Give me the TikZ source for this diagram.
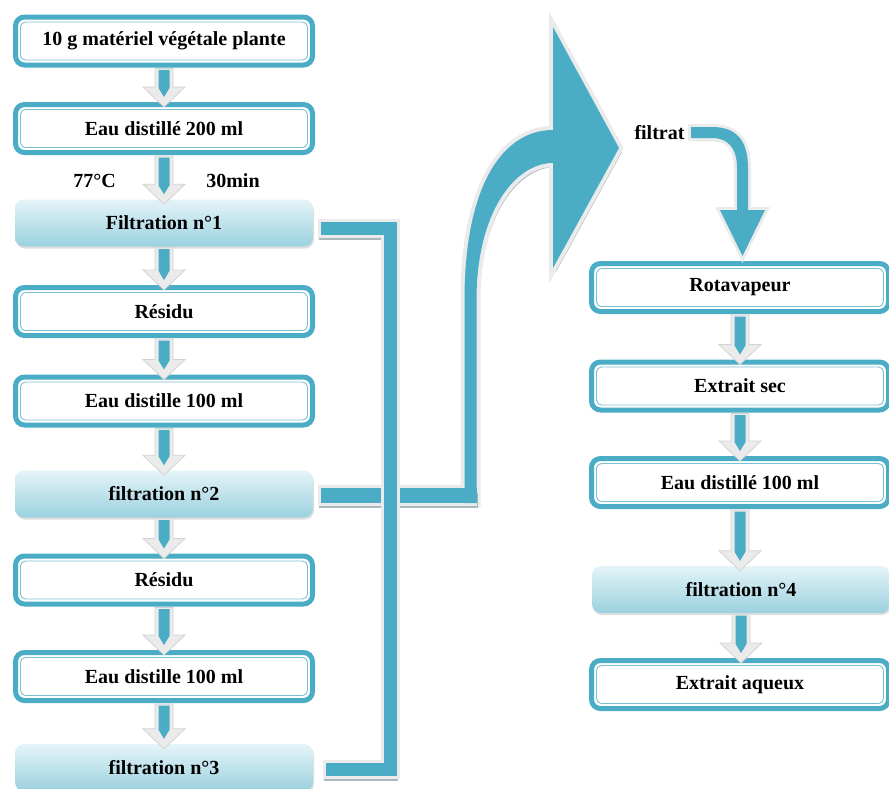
\documentclass[tikz,border=0pt]{standalone}
\usepackage{fontspec}
\setmainfont{Liberation Serif}
\usetikzlibrary{shadows,calc}
\definecolor{acc}{HTML}{4BACC6}
\definecolor{gtop}{HTML}{E4F4F8}
\definecolor{gbot}{HTML}{9BD1DF}
\definecolor{glow}{HTML}{EBEBEB}
\definecolor{glowedge}{HTML}{D2D2D2}
\definecolor{shad}{HTML}{A9B8BD}
\newcommand\flowarr[2]{%
  \filldraw[arrglow] let \p1=(#1.south), \p2=(#2.north) in
    (\x1-9pt,\y1-1pt) -- (\x1-9pt,\y2+15pt) -- (\x1-21pt,\y2+15pt) -- (\x1,\y2-5pt)
    -- (\x1+21pt,\y2+15pt) -- (\x1+9pt,\y2+15pt) -- (\x1+9pt,\y1-1pt) -- cycle;
  \fill[acc] let \p1=(#1.south), \p2=(#2.north) in
    (\x1-5.5pt,\y1-2.5pt) -- (\x1-5.5pt,\y2+14pt) -- (\x1,\y2+5pt)
    -- (\x1+5.5pt,\y2+14pt) -- (\x1+5.5pt,\y1-2.5pt) -- cycle;}
\begin{document}
\begin{tikzpicture}[x=1pt,y=-1pt,
  txt/.style={font=\fontsize{20}{24}\selectfont\bfseries, text=black},
  framebox/.style={txt, rectangle, rounded corners=9pt, draw=acc, line width=5pt,
    fill=white, minimum width=297pt, minimum height=48pt, inner sep=0pt,
    path picture={\draw[acc!75, line width=0.9pt, rounded corners=5pt]
      ([shift={(5pt,-5pt)}]path picture bounding box.north west) rectangle
      ([shift={(-5pt,5pt)}]path picture bounding box.south east);}},
  gradbox/.style={txt, rectangle, rounded corners=9pt, top color=gtop, bottom color=gbot,
    minimum width=298pt, minimum height=47pt, inner sep=0pt,
    drop shadow={opacity=0.25, shadow xshift=1pt, shadow yshift=-2pt}},
  label/.style={txt},
  arrglow/.style={fill=glow, draw=glowedge, line width=0.8pt},
  barshadow/.style={draw=shad, line width=#1, line join=miter},
  barglow/.style={draw=glow, line width=#1, line join=miter},
  barcore/.style={draw=acc, line width=#1, line join=miter},
  bigglow/.style={draw=glow, line width=8pt, line join=miter},
]
\useasboundingbox (0,0) rectangle (889,788);

% ---------------- nodes ----------------
\node[framebox] (b1) at (164,41) {10 g matériel végétale plante};
\node[framebox] (b2) at (164,128.5) {Eau distillé 200 ml};
\node[gradbox] (f1) at (164,223) {Filtration n°1};
\node[framebox] (r1) at (164,311.5) {Résidu};
\node[framebox] (e1) at (164,401) {Eau distille 100 ml};
\node[gradbox] (f2) at (164,494) {filtration n°2};
\node[framebox] (r2) at (164,580) {Résidu};
\node[framebox] (e2) at (164,676.5) {Eau distille 100 ml};
\node[gradbox] (f3) at (164,767.5) {filtration n°3};

\node[label] (t1) at (94.5,181) {77°C};
\node[label] (t2) at (233,181) {30min};

\node[framebox] (rota) at (740,287.5) {Rotavapeur};
\node[framebox] (sec) at (740,386) {Extrait sec};
\node[framebox] (eau) at (740,482.5) {Eau distillé 100 ml};
\node[gradbox] (f4) at (741,589.5) {filtration n°4};
\node[framebox] (aq) at (740,684.5) {Extrait aqueux};

\node[label] (filtrat) at (659.5,133) {filtrat};

% ---------------- coordinates ----------------
\coordinate (jt) at (390.5,228.5);
\coordinate (jb) at (390.5,769.5);
\coordinate (j2) at (476.5,495);

% ---------------- collecting bars ----------------
\draw[barshadow=13pt, transform canvas={shift={(1pt,-5pt)}}] ([xshift=5pt,yshift=-5.5pt]f1.east) -- (jt) -- (jb) -- ([xshift=10pt,yshift=-2pt]f3.east);
\draw[barglow=19pt] ([xshift=5pt,yshift=-5.5pt]f1.east) -- (jt) -- (jb) -- ([xshift=10pt,yshift=-2pt]f3.east);
\draw[barcore=13pt] ([xshift=8pt,yshift=-5.5pt]f1.east) -- (jt) -- (jb) -- ([xshift=13pt,yshift=-2pt]f3.east);

% big curved arrow (shadow, glow, fill)
\def\bigshape{(464.5,503) -- (464.5,300) .. controls (464.5,185) and (503,130) .. (553,130)
  -- (553,27) -- (619,148) -- (553,268) -- (553,163)
  .. controls (515,163) and (476.5,212) .. (476.5,300) -- (476.5,503) -- cycle}
\fill[shad, transform canvas={shift={(3pt,-4pt)}}] \bigshape;
\draw[bigglow] \bigshape;

\draw[barshadow=15pt, transform canvas={shift={(1pt,-5pt)}}] ([xshift=5pt,yshift=-1pt]f2.east) -- (j2);
\draw[barglow=21pt] ([xshift=5pt,yshift=-1pt]f2.east) -- (j2);
\fill[acc] \bigshape;
\draw[barcore=15pt] ([xshift=8pt,yshift=-1pt]f2.east) -- (j2);
% redraw vertical bar crossing over horizontal bar 2
\draw[barglow=19pt] (390.5,480) -- (390.5,510);
\draw[barcore=13pt] (390.5,478) -- (390.5,512);

% filtrat arrow
\def\filshape{([xshift=3pt]filtrat.east |- 0,127) -- (712,127) .. controls (736,127) and (748,140) .. (748,168)
  -- (748,210) -- (765,210) -- (742.5,256) -- (720,210) -- (737,210) -- (737,168)
  .. controls (737,148) and (728,138) .. (712,138) -- ([xshift=3pt]filtrat.east |- 0,138) -- cycle}
\fill[shad, transform canvas={shift={(1pt,-3pt)}}] \filshape;
\draw[bigglow, line width=6pt] \filshape;
\fill[acc] \filshape;

% ---------------- flow arrows ----------------
\flowarr{b1}{b2}
\flowarr{b2}{f1}
\flowarr{f1}{r1}
\flowarr{r1}{e1}
\flowarr{e1}{f2}
\flowarr{f2}{r2}
\flowarr{r2}{e2}
\flowarr{e2}{f3}
\flowarr{rota}{sec}
\flowarr{sec}{eau}
\flowarr{eau}{f4}
\flowarr{f4}{aq}
\end{tikzpicture}
\end{document}
